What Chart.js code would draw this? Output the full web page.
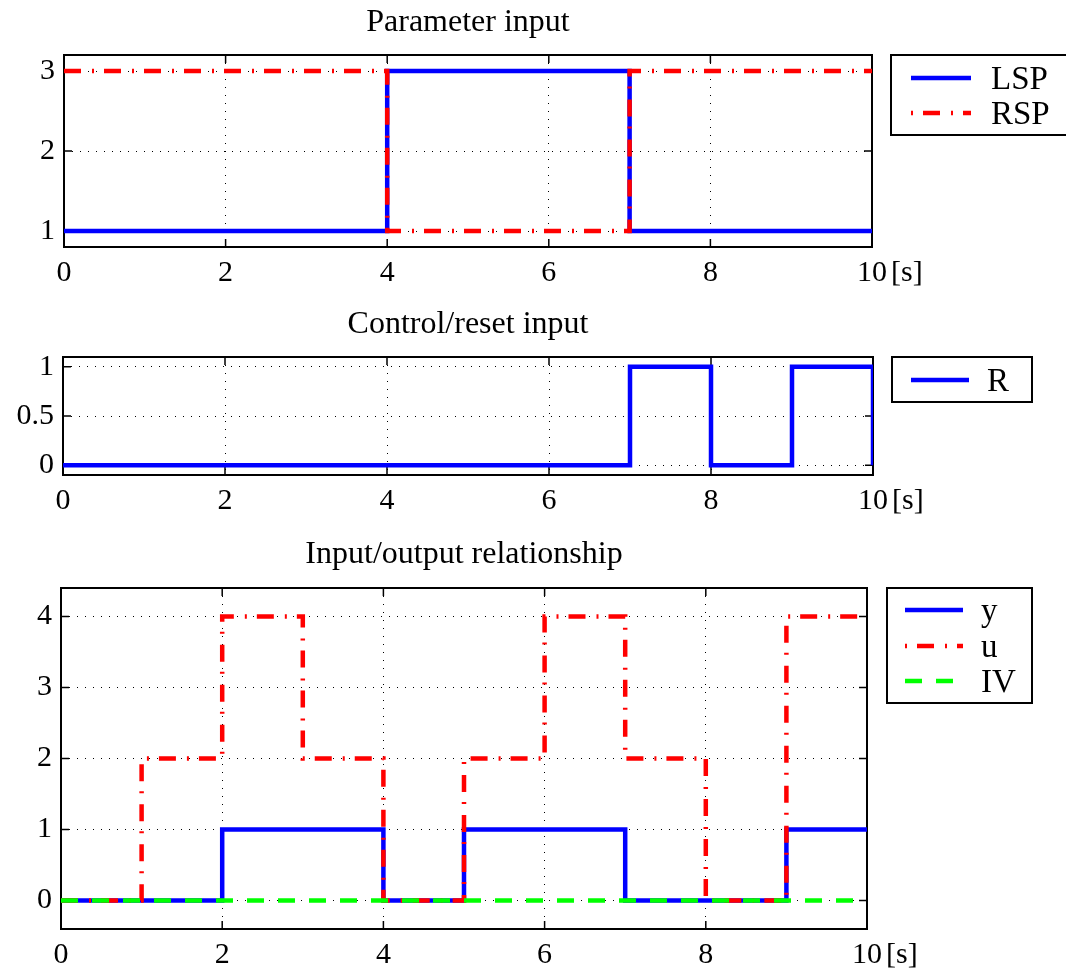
<!DOCTYPE html>
<html>
<head>
<meta charset="utf-8">
<title>Parameter / reset / input-output</title>
<script src="https://cdn.jsdelivr.net/npm/chart.js@4.4.1/dist/chart.umd.min.js"></script>
<style>
  body { margin: 0; background: #fff; }
  .panel { position: absolute; left: 0; }
  canvas { display: block; }
</style>
</head>
<body>
<div class="panel" style="top:0"><canvas id="paramChart" width="1066" height="300"></canvas></div>
<div class="panel" style="top:300px"><canvas id="resetChart" width="1066" height="225"></canvas></div>
<div class="panel" style="top:525px"><canvas id="ioChart" width="1066" height="445"></canvas></div>
<script>
// ===== Data =====
const timeTicks = [0, 2, 4, 6, 8, 10];

// Parameter input
const paramTime = [0, 4, 7, 10];
const lspValues = [1, 3, 1, 1];
const rspValues = [3, 1, 3, 3];
const paramTicks = [1, 2, 3];

// Control/reset input
const resetTime = [0, 7, 8, 9, 10];
const rValues = [0, 1, 0, 1, 0];
const resetTicks = [0, 0.5, 1];

// Input/output relationship
const ioTime = [0, 1, 2, 3, 4, 5, 6, 7, 8, 9, 10];
const yValues = [0, 0, 1, 1, 0, 1, 1, 0, 0, 1, 1];
const uValues = [0, 2, 4, 2, 0, 2, 4, 2, 0, 4, 4];
const ivValues = [0, 0, 0, 0, 0, 0, 0, 0, 0, 0, 0];
const ioTicks = [0, 1, 2, 3, 4];

// ===== Styles =====
const SERIF = '"Liberation Serif", "Times New Roman", serif';
const BLUE = '#0000ff';
const RED = '#ff0000';
const GREEN = '#00ff00';
const DASH_DOT = [17, 11, 2, 10];
const DASHED = [17, 14];
const TICK_FONT = 30;
const TEXT_FONT = 33;

function stepSeries(label, xs, ys, color, dash, order) {
  return {
    label,
    data: xs.map((t, i) => ({ x: t, y: ys[i] })),
    borderColor: color,
    borderWidth: 4.5,
    borderDash: dash,
    borderCapStyle: 'butt',
    stepped: true,
    pointRadius: 0,
    fill: false,
    order,
  };
}

// frame with inward ticks, drawn under the data like MATLAB does
const framePlugin = {
  id: 'frame',
  beforeDatasetsDraw(chart) {
    const { ctx, chartArea: a, scales: { x, y } } = chart;
    ctx.save();
    ctx.strokeStyle = '#000';
    ctx.setLineDash([]);
    ctx.lineWidth = 1.5;
    ctx.beginPath();
    for (const t of x.ticks) {
      const px = x.getPixelForValue(t.value);
      ctx.moveTo(px, a.bottom); ctx.lineTo(px, a.bottom - 8);
      ctx.moveTo(px, a.top); ctx.lineTo(px, a.top + 8);
    }
    for (const t of y.ticks) {
      const py = y.getPixelForValue(t.value);
      ctx.moveTo(a.left, py); ctx.lineTo(a.left + 8, py);
      ctx.moveTo(a.right, py); ctx.lineTo(a.right - 8, py);
    }
    ctx.stroke();
    ctx.lineWidth = 2;
    ctx.strokeRect(a.left, a.top, a.right - a.left, a.bottom - a.top);
    ctx.restore();
  },
  afterDraw(chart, args, opts) {
    const { ctx, chartArea: a, scales: { x } } = chart;
    ctx.save();
    ctx.fillStyle = '#000';

    // title
    ctx.font = '32px ' + SERIF;
    ctx.textAlign = 'center';
    ctx.textBaseline = 'alphabetic';
    ctx.fillText(opts.title, (a.left + a.right) / 2, opts.titleY);

    // unit after the last tick label
    ctx.font = TICK_FONT + 'px ' + SERIF;
    const last = x.ticks[x.ticks.length - 1];
    const lx = x.getPixelForValue(last.value) + ctx.measureText(String(last.value)).width / 2 + 4;
    ctx.textAlign = 'left';
    ctx.textBaseline = 'middle';
    ctx.fillText('[s]', lx, x.top + 8 + TICK_FONT * 0.6);

    // legend box
    const lg = opts.legend;
    ctx.lineWidth = 2;
    ctx.strokeStyle = '#000';
    ctx.strokeRect(lg.left, a.top, lg.width, lg.height);
    ctx.font = TEXT_FONT + 'px ' + SERIF;
    ctx.textBaseline = 'alphabetic';
    chart.data.datasets.forEach((ds, i) => {
      const ry = a.top + lg.rows[i];
      ctx.save();
      ctx.strokeStyle = ds.borderColor;
      ctx.lineWidth = 4.5;
      ctx.lineCap = 'butt';
      ctx.setLineDash(ds.borderDash || []);
      ctx.lineDashOffset = ds.borderDash === DASH_DOT ? 28 : 0;
      ctx.beginPath();
      ctx.moveTo(lg.lineX0, ry);
      ctx.lineTo(lg.lineX1, ry);
      ctx.stroke();
      ctx.restore();
      ctx.fillText(ds.label, lg.textX, ry + 11);
    });
    ctx.restore();
  },
};

function renderStepChart(canvasId, datasets, cfg) {
  const canvas = document.getElementById(canvasId);
  const tickFont = { family: SERIF, size: TICK_FONT };
  return new Chart(canvas, {
    type: 'line',
    data: { datasets },
    plugins: [framePlugin],
    options: {
      responsive: false,
      animation: false,
      events: [],
      layout: { padding: { left: 0, top: cfg.top, right: cfg.right, bottom: cfg.bottom } },
      plugins: {
        legend: { display: false },
        tooltip: { enabled: false },
        frame: { title: cfg.title, titleY: cfg.titleY, legend: cfg.legend },
      },
      scales: {
        x: {
          type: 'linear',
          min: 0,
          max: 10,
          afterBuildTicks: (s) => { s.ticks = timeTicks.map(v => ({ value: v })); },
          afterFit: (s) => { s.height = cfg.xHeight; },
          grid: { color: '#000', lineWidth: 1, drawTicks: false },
          border: { display: false, dash: [1, 7] },
          ticks: { font: tickFont, color: '#000', padding: 8, maxRotation: 0, autoSkip: false, callback: (v) => String(v) },
        },
        y: {
          type: 'linear',
          min: cfg.yMin,
          max: cfg.yMax,
          afterBuildTicks: (s) => { s.ticks = cfg.yTicks.map(v => ({ value: v })); },
          afterFit: (s) => { s.width = cfg.yWidth; },
          grid: { color: '#000', lineWidth: 1, drawTicks: false },
          border: { display: false, dash: [1, 7] },
          ticks: { font: tickFont, color: '#000', padding: 9, autoSkip: false, callback: (v) => String(v) },
        },
      },
    },
  });
}

renderStepChart('paramChart', [
  stepSeries('LSP', paramTime, lspValues, BLUE, [], 2),
  stepSeries('RSP', paramTime, rspValues, RED, DASH_DOT, 1),
], {
  title: 'Parameter input', titleY: 31,
  top: 55, right: 194, bottom: 8, xHeight: 45, yWidth: 64,
  yMin: 0.8, yMax: 3.2, yTicks: paramTicks,
  legend: { left: 891, width: 190, height: 80, rows: [23, 58], lineX0: 911, lineX1: 971, textX: 991 },
});

renderStepChart('resetChart', [
  stepSeries('R', resetTime, rValues, BLUE, [], 1),
], {
  title: 'Control/reset input', titleY: 33,
  top: 57, right: 193, bottom: 5, xHeight: 45, yWidth: 63,
  yMin: -0.1, yMax: 1.1, yTicks: resetTicks,
  legend: { left: 892, width: 140, height: 45, rows: [23], lineX0: 911, lineX1: 969, textX: 987 },
});

renderStepChart('ioChart', [
  stepSeries('y', ioTime, yValues, BLUE, [], 3),
  stepSeries('u', ioTime, uValues, RED, DASH_DOT, 2),
  stepSeries('IV', ioTime, ivValues, GREEN, DASHED, 1),
], {
  title: 'Input/output relationship', titleY: 38,
  top: 63, right: 199, bottom: 0, xHeight: 41, yWidth: 61,
  yMin: -0.4, yMax: 4.4, yTicks: ioTicks,
  legend: { left: 887, width: 145, height: 115, rows: [22, 58, 93], lineX0: 905, lineX1: 963, textX: 981 },
});
</script>
</body>
</html>
